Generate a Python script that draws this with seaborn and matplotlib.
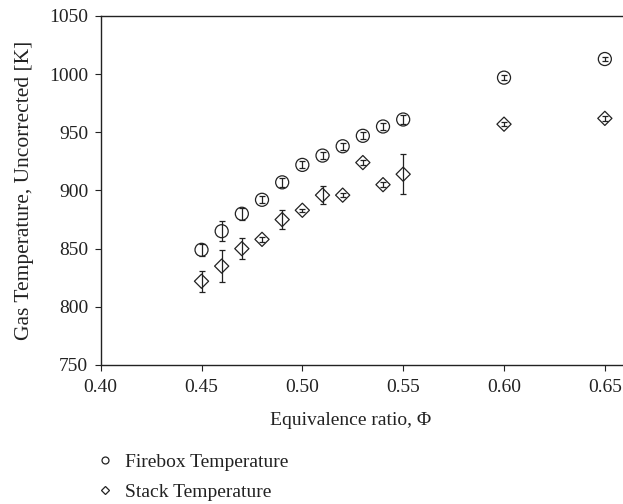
import seaborn as sns
import numpy as np
import matplotlib.pyplot as plt
from matplotlib.lines import Line2D

# Equivalence ratio
phi = np.array([0.45, 0.46, 0.47, 0.48, 0.49, 0.50, 0.51, 0.52, 0.53, 0.54, 0.55, 0.60, 0.65])

# Firebox temperature [K] and error
firebox = np.array([849, 865, 880, 892, 907, 922, 930, 938, 947, 955, 961, 997, 1013])
firebox_err = np.array([5, 8.5, 5, 3, 4, 3, 3, 3, 3, 3, 4, 2, 2])

# Stack temperature [K] and error
stack = np.array([822, 835, 850, 858, 875, 883, 896, 896, 924, 905, 914, 957, 962])
stack_err = np.array([9, 14, 9, 2, 8, 1.5, 8, 2, 2, 2, 17, 2, 2])

x_ticks = [0.40, 0.45, 0.50, 0.55, 0.60, 0.65]
y_ticks = [750, 800, 850, 900, 950, 1000, 1050]

sns.set_style("ticks")
plt.rcParams['font.family'] = ['Liberation Serif', 'DejaVu Serif']
ink = '#222222'

fig = plt.figure(figsize=(6.23, 5.04), dpi=100)
ax = fig.add_axes([0.1616, 0.2758, 0.8384, 0.6925])

sns.scatterplot(x=phi, y=firebox, marker='o', s=88, facecolor='none',
                edgecolor=ink, linewidth=0.9, ax=ax, zorder=3)
sns.scatterplot(x=phi, y=stack, marker='D', s=52, facecolor='none',
                edgecolor=ink, linewidth=0.9, ax=ax, zorder=3)
ax.errorbar(phi, firebox, yerr=firebox_err, fmt='none', ecolor=ink,
            elinewidth=0.9, capsize=2.5, capthick=0.9)
ax.errorbar(phi, stack, yerr=stack_err, fmt='none', ecolor=ink,
            elinewidth=0.9, capsize=2.5, capthick=0.9)

ax.set_xlim(0.40, 0.659)
ax.set_ylim(750, 1050)
ax.set_xticks(x_ticks)
ax.set_xticklabels([f"{v:.2f}" for v in x_ticks])
ax.set_yticks(y_ticks)

ax.spines['right'].set_visible(False)
for s in ['left', 'bottom', 'top']:
    ax.spines[s].set_linewidth(1.0)
    ax.spines[s].set_color(ink)
ax.tick_params(direction='out', length=4, width=0.8, color=ink,
               labelsize=14, labelcolor=ink, pad=5)
ax.tick_params(axis='x', pad=6)

ax.set_xlabel("Equivalence ratio, Φ", fontsize=14, color=ink)
ax.set_ylabel("Gas Temperature, Uncorrected [K]", fontsize=15.5, color=ink)
ax.xaxis.set_label_coords(0.479, -0.134)
ax.yaxis.set_label_coords(-0.128, 0.5)

handles = [
    Line2D([], [], ls='none', marker='o', ms=5, mfc='none', mec=ink, mew=0.9,
           label='Firebox Temperature'),
    Line2D([], [], ls='none', marker='D', ms=3.6, mfc='none', mec=ink, mew=0.9,
           label='Stack Temperature'),
]
fig.legend(handles=handles, loc='upper left', bbox_to_anchor=(0.153, 0.101),
           frameon=False, fontsize=14, handlelength=1, handletextpad=0.53,
           borderpad=0, borderaxespad=0, labelspacing=0.66, labelcolor=ink)

fig.savefig('out.png', dpi=100)
